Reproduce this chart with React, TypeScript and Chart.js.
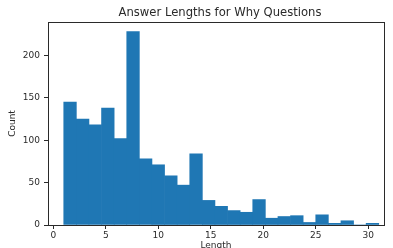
import React, { useEffect, useRef } from "react";
import { Chart, registerables } from "chart.js";

Chart.register(...registerables);

const title = "Answer Lengths for Why Questions";
const xLabel = "Length";
const yLabel = "Count";
const binEdges = [1, 2.2, 3.4, 4.6, 5.8, 7, 8.2, 9.4, 10.6, 11.8, 13, 14.2, 15.4, 16.6, 17.8, 19, 20.2, 21.4, 22.6, 23.8, 25, 26.2, 27.4, 28.6, 29.8, 31];
const counts = [145, 125, 118, 138, 102, 228, 78, 71, 58, 47, 84, 29, 22, 17, 15, 30, 8, 10, 11, 3, 12, 2, 5, 0, 2];
const xTicks = [0, 5, 10, 15, 20, 25, 30];
const yTicks = [0, 50, 100, 150, 200];

const FONT = "'DejaVu Sans', sans-serif";
const INK = "#2a2a2a";

const frame = {
  id: "frame",
  afterDatasetsDraw(chart: any) {
    const { ctx, chartArea } = chart;
    ctx.save();
    ctx.strokeStyle = INK;
    ctx.lineWidth = 1;
    ctx.strokeRect(
      Math.round(chartArea.left) + 0.5,
      Math.round(chartArea.top) + 0.5,
      Math.round(chartArea.right - chartArea.left),
      Math.round(chartArea.bottom - chartArea.top)
    );
    ctx.restore();
  },
  afterDraw(chart: any) {
    const { ctx, chartArea } = chart;
    ctx.save();
    ctx.fillStyle = INK;
    ctx.font = `11.6px ${FONT}`;
    ctx.textAlign = "center";
    ctx.textBaseline = "middle";
    ctx.fillText(title, (chartArea.left + chartArea.right) / 2 + 4, 13);
    ctx.restore();
  },
};

export default function App() {
  const ref = useRef<HTMLCanvasElement | null>(null);
  useEffect(() => {
    if (!ref.current) return;
    const data = counts.map((c, i) => ({ x: (binEdges[i] + binEdges[i + 1]) / 2, y: c }));
    const chart = new Chart(ref.current, {
      type: "bar",
      data: {
        datasets: [
          {
            data,
            backgroundColor: "#1f77b4",
            borderWidth: 0,
            barPercentage: 1,
            categoryPercentage: 1,
          },
        ],
      },
      plugins: [frame],
      options: {
        responsive: false,
        animation: false,
        devicePixelRatio: 1,
        layout: { padding: { left: 0, right: 9, top: 22, bottom: 0 } },
        plugins: {
          legend: { display: false },
          tooltip: { enabled: false },
          title: { display: false },
        },
        scales: {
          x: {
            type: "linear",
            offset: false,
            min: -0.5,
            max: 31.5,
            afterFit(scale: any) {
              scale.height = 23;
            },
            afterBuildTicks(scale: any) {
              scale.ticks = xTicks.map((v) => ({ value: v }));
            },
            ticks: {
              color: INK,
              font: { family: FONT, size: 9 },
              padding: 1,
              maxRotation: 0,
              autoSkip: false,
              includeBounds: false,
            },
            grid: { offset: false, drawOnChartArea: false, drawTicks: true, tickLength: 4, color: INK },
            border: { display: true, color: INK },
            title: {
              display: true,
              text: xLabel,
              color: INK,
              font: { family: FONT, size: 9, lineHeight: 1 },
              padding: { top: 0, bottom: -2 },
            },
          },
          y: {
            type: "linear",
            min: 0,
            max: 239.4,
            afterFit(scale: any) {
              scale.width = 48;
            },
            afterBuildTicks(scale: any) {
              scale.ticks = yTicks.map((v) => ({ value: v }));
            },
            ticks: {
              color: INK,
              font: { family: FONT, size: 9 },
              padding: 4,
              autoSkip: false,
              includeBounds: false,
            },
            grid: { drawOnChartArea: false, drawTicks: true, tickLength: 4, color: INK },
            border: { display: true, color: INK },
            title: {
              display: true,
              text: yLabel,
              color: INK,
              font: { family: FONT, size: 9, lineHeight: 1 },
              padding: { top: 8, bottom: 0 },
            },
          },
        },
      },
    } as any);
    return () => chart.destroy();
  }, []);
  return (
    <div style={{ position: "absolute", left: 0, top: 0, width: 393, height: 248, background: "#fff" }}>
      <canvas ref={ref} width={393} height={248} />
    </div>
  );
}
